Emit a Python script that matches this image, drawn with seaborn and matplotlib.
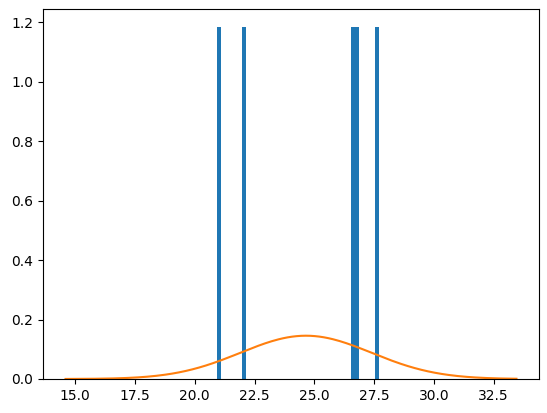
import numpy as np
import matplotlib as mpl
mpl.use('Agg')
import matplotlib.pyplot as plt
import seaborn as sns

# observed values (five samples)
values = [20.95, 22.05, 26.6, 26.78, 27.7]
n_bins = 40

# fitted normal curve parameters
mu = 24.65
sigma = 2.74
x_start, x_end = 14.6, 33.45

fig = plt.figure(figsize=(5.47, 4.13), dpi=100)
ax = fig.add_axes([43 / 547, 34 / 413, 496 / 547, 370 / 413])

sns.histplot(x=values, bins=n_bins, binrange=(min(values), max(values)),
             stat='density', color='#1f77b4', alpha=1, linewidth=0, ax=ax)

xs = np.linspace(x_start, x_end, 200)
pdf = np.exp(-0.5 * ((xs - mu) / sigma) ** 2) / (sigma * np.sqrt(2 * np.pi))
sns.lineplot(x=xs, y=pdf, color='#ff7f0e', linewidth=1.5, ax=ax)

ax.set_xlabel('')
ax.set_ylabel('')
ax.set_xticks(np.arange(15, 33, 2.5))

fig.savefig('out.png', dpi=100)
